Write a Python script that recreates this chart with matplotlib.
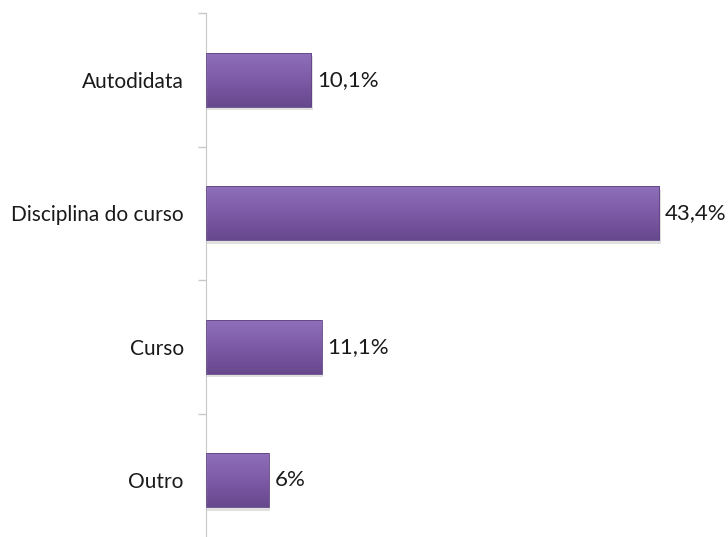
import matplotlib.pyplot as plt
import numpy as np
from matplotlib.colors import LinearSegmentedColormap

categories = ["Autodidata", "Disciplina do curso", "Curso", "Outro"]
values = [10.1, 43.4, 11.1, 6.0]
labels = ["10,1%", "43,4%", "11,1%", "6%"]

plt.rcParams['font.family'] = ['Lato', 'DejaVu Sans']

fig = plt.figure(figsize=(7.28, 5.37), dpi=100)
ax = fig.add_axes([206 / 728, -10 / 537, 1 - 206 / 728, 534 / 537])

ypos = np.arange(len(categories))
bar_h = 0.405
grad = LinearSegmentedColormap.from_list("purp", ["#9070ba", "#7d5ba6", "#67488d"])

for y, v, lab in zip(ypos, values, labels):
    # soft shadow
    ax.barh(y + 0.025, v + 0.15, height=bar_h, color="#000000", alpha=0.12, zorder=1)
    bars = ax.barh(y, v, height=bar_h, color="none", edgecolor="#5e4483", linewidth=0.6, zorder=3)
    patch = bars.patches[0]
    img = ax.imshow(np.linspace(0, 1, 64).reshape(-1, 1), cmap=grad, aspect="auto",
                    extent=(0, v, y + bar_h / 2, y - bar_h / 2), zorder=2)
    img.set_clip_path(patch)
    ax.text(v + 0.55, y, lab, va="center", ha="left", fontsize=16, color="#1a1a1a")

ax.set_xlim(0, 50)
ax.set_ylim(len(categories) - 0.5, -0.5)

ax.set_yticks(ypos)
ax.set_yticklabels(categories, fontsize=15, color="#1a1a1a")
ax.set_yticks(np.arange(-0.5, len(categories), 1), minor=True)
ax.tick_params(axis="y", which="major", length=0, pad=16)
ax.tick_params(axis="y", which="minor", length=6, color="#c8c8c8", width=1)
ax.set_xticks([])

for s in ["top", "right", "bottom"]:
    ax.spines[s].set_visible(False)
ax.spines["left"].set_color("#c8c8c8")

fig.savefig("out.png", dpi=100)
